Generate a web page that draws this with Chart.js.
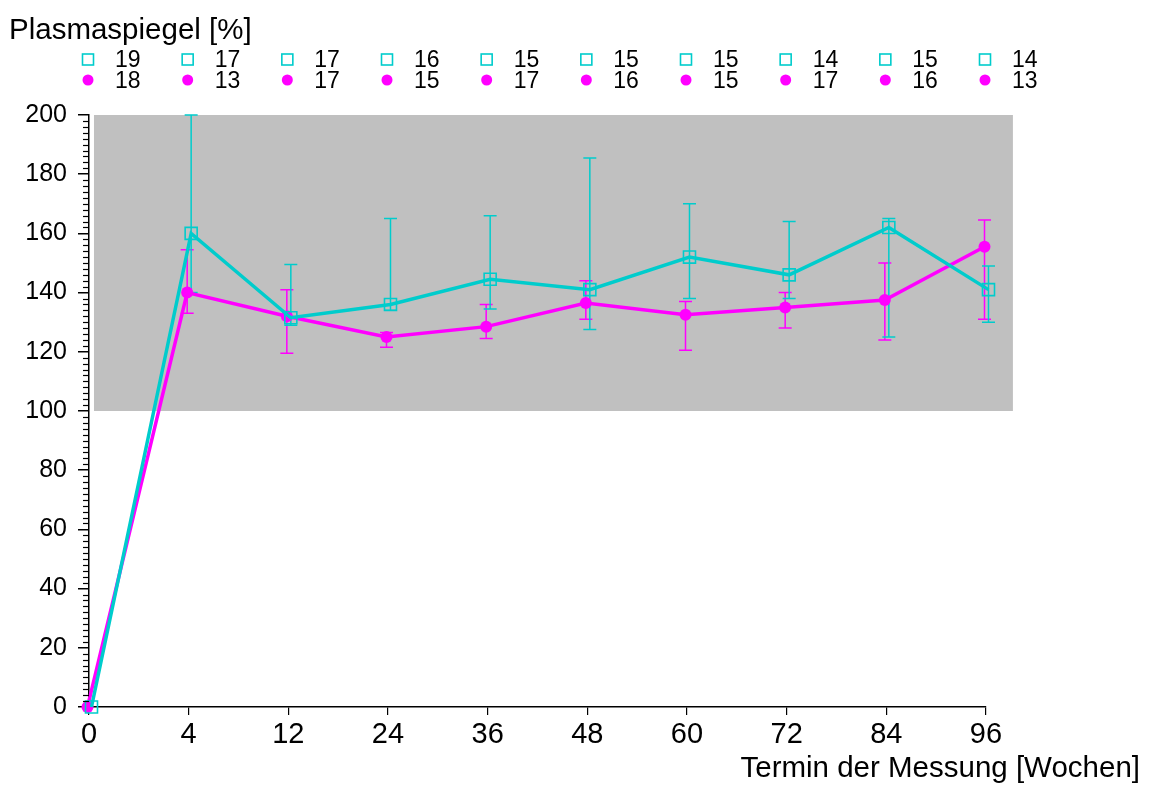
<!DOCTYPE html>
<html>
<head>
<meta charset="utf-8">
<script src="https://cdn.jsdelivr.net/npm/chart.js@4/dist/chart.umd.min.js"></script>
<style>
  html, body { margin: 0; padding: 0; background: #fff; }
  #wrap { width: 1150px; height: 785px; position: relative; }
</style>
</head>
<body>
<div id="wrap"><canvas id="c" width="1150" height="785"></canvas></div>
<script>
// ---- data ----
const weekLabels = ['0', '4', '12', '24', '36', '48', '60', '72', '84', '96'];
const cyanMean  = [0, 160, 131.5, 136, 144.5, 141, 152, 146, 162, 141];
const cyanUpper = [0, 200, 149.5, 165, 166, 185.5, 170, 164, 165, 149];
const cyanLower = [0, 140, 129, 134, 134.5, 127.5, 138, 138, 125, 130];
const magMean   = [0, 140, 132, 125, 128.5, 136.5, 132.5, 135, 137.5, 155.5];
const magUpper  = [0, 154.5, 141, 126.5, 136, 144, 137, 140, 150, 164.5];
const magLower  = [0, 133, 119.5, 121.5, 124.5, 131, 120.5, 128, 124, 131];
const nCyan = [19, 17, 17, 16, 15, 15, 15, 14, 15, 14];
const nMag  = [18, 13, 17, 15, 17, 16, 15, 17, 16, 13];
const refRange = [100, 200];
const yTitle = 'Plasmaspiegel [%]';
const xTitle = 'Termin der Messung [Wochen]';

const CYAN = 'rgb(0,204,204)';
const MAG = 'rgb(255,0,255)';
const FONT = '"Liberation Sans", Arial, sans-serif';
const cyanShift = 0.025, magShift = -0.015;

const toPts = (arr, shift) => arr.map((v, i) => ({ x: i + shift, y: v }));

const decor = {
  id: 'decor',
  beforeDatasetsDraw(chart) {
    const ctx = chart.ctx, xs = chart.scales.x, ys = chart.scales.y;
    // reference band
    ctx.save();
    ctx.fillStyle = '#c0c0c0';
    const x0 = xs.getPixelForValue(0.05), x1 = xs.getPixelForValue(9.27);
    const y0 = ys.getPixelForValue(refRange[1]), y1 = ys.getPixelForValue(refRange[0]);
    ctx.fillRect(x0, y0, x1 - x0, y1 - y0);
    // error bars
    const drawErr = (mean, up, lo, shift, color) => {
      ctx.strokeStyle = color;
      ctx.lineWidth = 1.5;
      for (let i = 0; i < mean.length; i++) {
        if (up[i] === lo[i]) continue;
        const x = xs.getPixelForValue(i + shift);
        const yu = ys.getPixelForValue(up[i]), yl = ys.getPixelForValue(lo[i]);
        ctx.beginPath();
        ctx.moveTo(x, yu); ctx.lineTo(x, yl);
        ctx.moveTo(x - 6.5, yu); ctx.lineTo(x + 6.5, yu);
        ctx.moveTo(x - 6.5, yl); ctx.lineTo(x + 6.5, yl);
        ctx.stroke();
      }
    };
    drawErr(magMean, magUpper, magLower, magShift, MAG);
    drawErr(cyanMean, cyanUpper, cyanLower, cyanShift, CYAN);
    ctx.restore();
  },
  afterDraw(chart) {
    const ctx = chart.ctx, xs = chart.scales.x, ys = chart.scales.y;
    ctx.save();
    // minor y ticks
    ctx.strokeStyle = '#000';
    ctx.lineWidth = 1.2;
    const ax = chart.chartArea.left;
    for (let v = 0; v <= 200; v += 2) {
      if (v % 20 === 0) continue;
      const y = Math.round(ys.getPixelForValue(v)) + 0.5;
      ctx.beginPath(); ctx.moveTo(ax - 6, y); ctx.lineTo(ax, y); ctx.stroke();
    }
    // titles
    ctx.fillStyle = '#000';
    ctx.font = '29.5px ' + FONT;
    ctx.textBaseline = 'alphabetic';
    ctx.textAlign = 'left';
    ctx.fillText(yTitle, 9, 39);
    ctx.textAlign = 'right';
    ctx.fillText(xTitle, 1140, 777);
    // per-timepoint counts legend
    ctx.font = '23px ' + FONT;
    ctx.textAlign = 'left';
    for (let i = 0; i < weekLabels.length; i++) {
      const cx = xs.getPixelForValue(i) - 1;
      ctx.strokeStyle = CYAN; ctx.lineWidth = 1.6;
      ctx.strokeRect(cx - 5.5, 54, 11, 11);
      ctx.fillStyle = MAG;
      ctx.beginPath(); ctx.arc(cx, 80, 5.5, 0, Math.PI * 2); ctx.fill();
      ctx.fillStyle = '#000';
      ctx.fillText(String(nCyan[i]), cx + 27, 67);
      ctx.fillText(String(nMag[i]), cx + 27, 88);
    }
    ctx.restore();
  }
};

new Chart(document.getElementById('c'), {
  type: 'line',
  data: {
    datasets: [
      {
        label: 'cyan', data: toPts(cyanMean, cyanShift),
        borderColor: CYAN, borderWidth: 3.5,
        pointStyle: 'rect', pointRadius: 8.5, pointBorderWidth: 1.6,
        pointBorderColor: CYAN, pointBackgroundColor: 'rgba(0,0,0,0)',
        clip: false
      },
      {
        label: 'magenta', data: toPts(magMean, magShift),
        borderColor: MAG, borderWidth: 3.5,
        pointStyle: 'circle', pointRadius: 6, pointBorderWidth: 0,
        pointBackgroundColor: MAG, pointBorderColor: MAG,
        clip: false
      }
    ]
  },
  options: {
    responsive: false,
    animation: false,
    devicePixelRatio: 1,
    layout: { padding: { left: 0, top: 115, right: 164, bottom: 0 } },
    plugins: { legend: { display: false }, tooltip: { enabled: false } },
    elements: { line: { tension: 0 } },
    scales: {
      x: {
        type: 'linear', min: 0, max: 9,
        afterFit(s) { s.height = 78; },
        ticks: {
          stepSize: 1, autoSkip: false, maxRotation: 0, color: '#000',
          font: { family: FONT, size: 29 }, padding: 3,
          callback: (v) => weekLabels[v]
        },
        grid: { display: true, drawOnChartArea: false, drawTicks: true, tickLength: 8, color: '#000', lineWidth: 1.2 },
        border: { display: true, color: '#000', width: 1.5 }
      },
      y: {
        min: 0, max: 200,
        afterFit(s) { s.width = 89; },
        ticks: {
          stepSize: 20, color: '#000', font: { family: FONT, size: 25 }, padding: 11
        },
        grid: { display: true, drawOnChartArea: false, drawTicks: true, tickLength: 11, color: '#000', lineWidth: 1.5 },
        border: { display: true, color: '#000', width: 1.5 }
      }
    }
  },
  plugins: [decor]
});
</script>
</body>
</html>
